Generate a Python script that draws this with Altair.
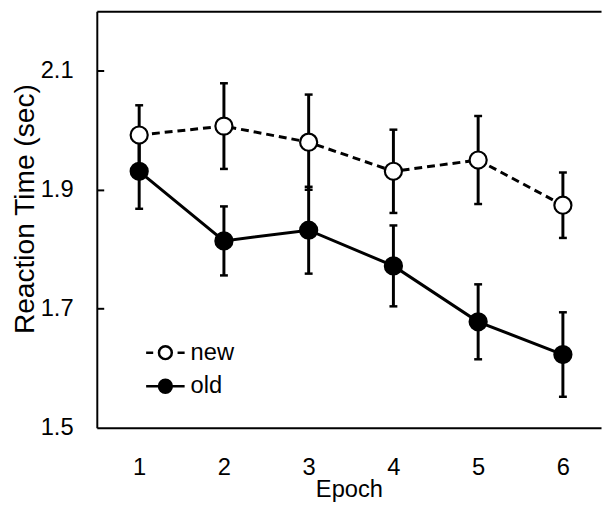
import altair as alt
import pandas as pd

# ---- data ----
epochs = [1, 2, 3, 4, 5, 6]
series = ["new", "old"]
new_rt = [1.992, 2.007, 1.980, 1.931, 1.950, 1.874]
new_err = [0.050, 0.072, 0.080, 0.070, 0.074, 0.055]
old_rt = [1.931, 1.814, 1.832, 1.772, 1.678, 1.623]
old_err = [0.063, 0.058, 0.073, 0.068, 0.063, 0.071]
y_ticks = [1.5, 1.7, 1.9, 2.1]
inner_ticks = [1.7, 1.9, 2.1]

rows = []
for name, vals, errs in (("new", new_rt, new_err), ("old", old_rt, old_err)):
    for e, v, er in zip(epochs, vals, errs):
        rows.append({"Epoch": e, "RT": v, "err": er, "cond": name})
df = pd.DataFrame(rows)

FONT = "Liberation Sans"
x_scale = alt.Scale(domain=[0.5, 6.45], nice=False, zero=False)
y_scale = alt.Scale(domain=[1.5, 2.2], nice=False, zero=False)

x_main = alt.Axis(values=epochs, format="d", ticks=False, tickSize=0, grid=False,
                  domain=True, domainColor="black", domainWidth=2,
                  labelFont=FONT, labelFontSize=24, labelColor="black", labelPadding=28,
                  title="Epoch", titleFont=FONT, titleFontSize=24, titleFontWeight="normal",
                  titleColor="black", titleBaseline="alphabetic", titleY=70)
x_top = alt.Axis(orient="top", labels=False, ticks=False, grid=False, title=None,
                 domain=True, domainColor="black", domainWidth=2)
y_main = alt.Axis(values=y_ticks, format=".1f", ticks=False, tickSize=0, grid=False,
                  domain=True, domainColor="black", domainWidth=2,
                  labelFont=FONT, labelFontSize=24, labelColor="black", labelPadding=24,
                  title="Reaction Time (sec)", titleFont=FONT, titleFontSize=28.5,
                  titleFontWeight="normal", titleColor="black", titleAngle=270,
                  titleBaseline="alphabetic", titleAlign="center", titleX=-64, titleY=200)
y_inner = alt.Axis(orient="left", offset=-7, values=inner_ticks, domain=False, labels=False,
                   ticks=True, tickSize=7, tickWidth=2, tickColor="black", grid=False, title=None)

NEW_PATH = "M-3,0L-1.9,0M1.9,0L3,0M1,0A1,1,0,1,1,-1,0A1,1,0,1,1,1,0Z"
OLD_PATH = "M-3,0L3,0M1,0A1,1,0,1,1,-1,0A1,1,0,1,1,1,0Z"
legend = alt.Legend(title=None, orient="none", legendX=57.5, legendY=334, padding=0,
                    symbolSize=169, symbolStrokeColor="black", symbolStrokeWidth=2.5,
                    symbolOpacity=1, labelFont=FONT, labelFontSize=24, labelColor="black",
                    labelOffset=13.5, rowPadding=10)
fill_scale = alt.Scale(domain=series, range=["white", "black"])
shape_scale = alt.Scale(domain=series, range=[NEW_PATH, OLD_PATH])
stroke_scale = alt.Scale(domain=series, range=["black", "black"])

base = alt.Chart(df).transform_calculate(lo="datum.RT - datum.err", hi="datum.RT + datum.err")

line_new = base.transform_filter(alt.datum.cond == "new").mark_line(
    color="black", strokeWidth=3, strokeDash=[8, 5]).encode(
    x=alt.X("Epoch:Q", scale=x_scale, axis=x_main),
    y=alt.Y("RT:Q", scale=y_scale, axis=y_main))

line_old = base.transform_filter(alt.datum.cond == "old").mark_line(
    color="black", strokeWidth=3).encode(
    x=alt.X("Epoch:Q", scale=x_scale, axis=None),
    y=alt.Y("RT:Q", scale=y_scale, axis=None))

bars = base.mark_rule(color="black", strokeWidth=3).encode(
    x=alt.X("Epoch:Q", scale=x_scale, axis=x_top),
    y=alt.Y("lo:Q", scale=y_scale, axis=y_inner),
    y2="hi:Q")

caps = base.transform_fold(["lo", "hi"], as_=["end", "val"]).mark_tick(
    color="black", thickness=2.5, size=8, orient="horizontal", opacity=1).encode(
    x=alt.X("Epoch:Q", scale=x_scale, axis=None),
    y=alt.Y("val:Q", scale=y_scale, axis=None))

points = base.mark_point(filled=True, size=300, stroke="black", strokeWidth=2.2, opacity=1,
                         shape="circle").encode(
    x=alt.X("Epoch:Q", scale=x_scale, axis=None),
    y=alt.Y("RT:Q", scale=y_scale, axis=None),
    fill=alt.Fill("cond:N", scale=fill_scale, legend=legend))

# legend-only layer: no rows pass the filter, it just carries the legend symbols
legend_layer = base.transform_filter("false").mark_point(
    filled=True, strokeWidth=2.5, opacity=1).encode(
    x=alt.X("Epoch:Q", scale=x_scale, axis=None),
    y=alt.Y("RT:Q", scale=y_scale, axis=None),
    fill=alt.Fill("cond:N", scale=fill_scale, legend=legend),
    shape=alt.Shape("cond:N", scale=shape_scale, legend=legend),
    stroke=alt.Stroke("cond:N", scale=stroke_scale, legend=legend))

chart = alt.layer(line_new, line_old, bars, caps, points, legend_layer).resolve_axis(
    x="independent", y="independent").properties(
    width=511, height=422,
    autosize=alt.AutoSizeParams(type="none"),
    padding={"left": 90, "top": 0, "right": 2, "bottom": 75},
    background="white").configure_view(strokeWidth=0)

chart.save("out.html", embed_options={"renderer": "svg", "actions": False})
